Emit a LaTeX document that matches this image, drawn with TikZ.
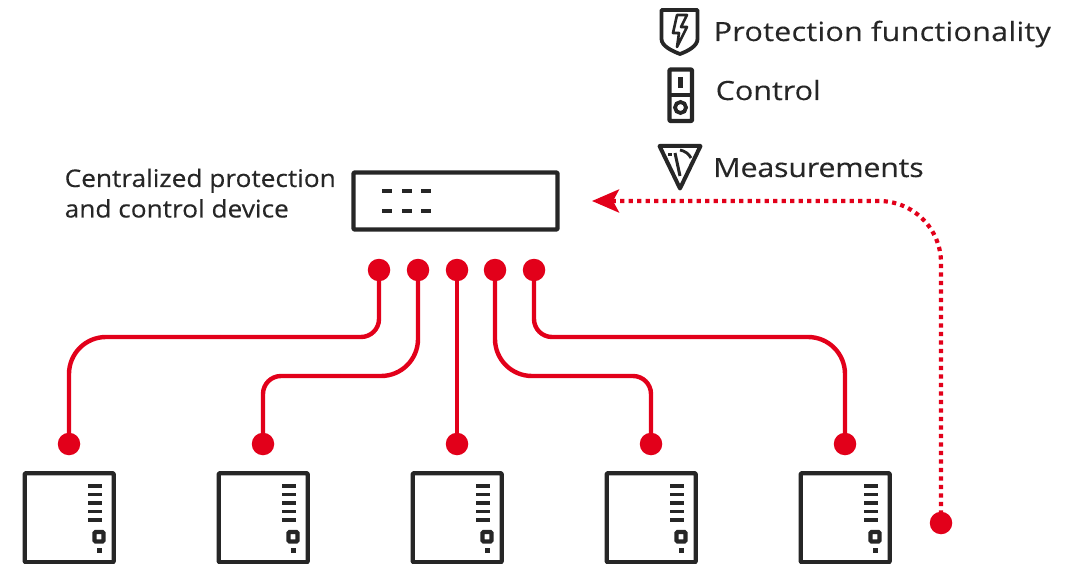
\documentclass[tikz,border=0pt]{standalone}
\usepackage{fontspec}
\setmainfont{Open Sans}
\newfontfamily\legendfont[FakeStretch=1.15,FakeBold=0.25]{Open Sans}
\newfontfamily\devfont[FakeStretch=1.08,FakeBold=0.25]{Open Sans}
\usetikzlibrary{arrows.meta}
\definecolor{abbred}{HTML}{E2001A}
\definecolor{abbink}{HTML}{262626}
\tikzset{
  ink/.style={draw=abbink,line width=4.4pt,line join=round,rounded corners=1pt},
  thinink/.style={draw=abbink,line width=3.8pt,line join=round},
  pin/.style={circle,fill=abbred,minimum size=22.5pt,inner sep=0pt},
  wire/.style={draw=abbred,line width=4.4pt},
  bigbend/.style={rounded corners=37pt},
  smallbend/.style={rounded corners=18pt},
  dotwire/.style={draw=abbred,line width=4.2pt,dash pattern=on 4.2pt off 4.3pt,rounded corners=62pt,
    -{Stealth[length=27pt,width=23pt,inset=6pt,color=abbred]}},
  lbl/.style={anchor=base west,inner sep=0pt,text=abbink,font=\legendfont\fontsize{26.5}{33}\selectfont},
  lblsmall/.style={anchor=base west,inner sep=0pt,text=abbink,font=\devfont\fontsize{24.3}{31}\selectfont},
}
\newcommand{\relaybox}[2]{%
  \node[ink,minimum width=89pt,minimum height=89pt,inner sep=0pt,anchor=north west] (#2) at (#1-46.5,471) {};
  \foreach \yy in {486,494.5,503,511.5,520}{\draw[draw=abbink,line width=3.8pt] (#1+19,\yy) -- (#1+33,\yy);}
  \draw[draw=abbink,line width=4.2pt,rounded corners=1pt] (#1+25.5,532) rectangle (#1+34.5,541.5);
  \fill[abbink] (#1+28,548) rectangle (#1+32.5,552.5);
}
\begin{document}
\begin{tikzpicture}[x=1pt,y=-1pt]
\useasboundingbox (0,0) rectangle (1081,564);

% legend icons
\draw[thinink] (661.5,10) -- (697.5,10) -- (697.5,39) .. controls (697.5,46) and (688,51) .. (680,54) .. controls (672,51) and (661.5,46) .. (661.5,39) -- cycle;
\draw[draw=abbink,line width=2.6pt,line join=round] (677,15) -- (687,15) -- (681,27) -- (687,27) -- (677,47) -- (679,33) -- (673,33) -- cycle;
\draw[ink] (669.5,69.5) rectangle (692,121);
\draw[draw=abbink,line width=3.6pt] (669.5,95) -- (692,95);
\draw[draw=abbink,line width=4.4pt] (680.5,77) -- (680.5,88);
\draw[draw=abbink,line width=3.8pt] (680.5,107.5) circle (5.5);
\draw[thinink,line width=4pt] (659.5,146) -- (700.5,146) -- (680,188.5) -- cycle;
\draw[draw=abbink,line width=3pt] (675,153) -- (680,176);
\draw[draw=abbink,line width=2.8pt] (680,150) .. controls (685,151) and (689,154) .. (691,158);
\fill[abbink] (668,153) rectangle (671.5,156.5);

\node[lbl] (t1) at (713.5,41) {\addfontfeature{LetterSpace=1.1}Protection functionality};
\node[lbl] (t2) at (715.5,100) {Control};
\node[lbl] (t3) at (713,177) {\addfontfeature{LetterSpace=-0.9}Measurements};

% central device
\node[lblsmall] (t4) at (64.5,187) {Centralized protection};
\node[lblsmall] (t5) at (64.5,217.5) {and control device};
\node[ink,minimum width=204pt,minimum height=57pt,inner sep=0pt] (dev) at (455.5,201) {};
\foreach \yy in {191,211}{
  \foreach \xx in {382,402,421}{
    \draw[draw=abbink,line width=4pt] (\xx,\yy) -- (\xx+10,\yy);
  }
}

% pins
\node[pin] (a1) at (379,270) {};
\node[pin] (a2) at (418,270) {};
\node[pin] (a3) at (457,270) {};
\node[pin] (a4) at (495,270) {};
\node[pin] (a5) at (534,270) {};
\node[pin] (b1) at (69,444) {};
\node[pin] (b2) at (263,444) {};
\node[pin] (b3) at (457,444) {};
\node[pin] (b4) at (651,444) {};
\node[pin] (b5) at (845,444) {};
\node[pin] (m) at (941,523) {};
\coordinate (tip) at (592,201);
\coordinate (j1) at (220,337);
\coordinate (j2) at (340,376);
\coordinate (j4) at (570,376);
\coordinate (j5) at (690,337);

% wires
\draw[wire,smallbend] (a1.center) |- (j1);
\draw[wire,bigbend] (j1) -| (b1.center);
\draw[wire,bigbend] (a2.center) |- (j2);
\draw[wire,smallbend] (j2) -| (b2.center);
\draw[wire] (a3.center) -- (b3.center);
\draw[wire,bigbend] (a4.center) |- (j4);
\draw[wire,smallbend] (j4) -| (b4.center);
\draw[wire,smallbend] (a5.center) |- (j5);
\draw[wire,bigbend] (j5) -| (b5.center);
\draw[dotwire] (m.center) |- (tip);

% relays
\relaybox{69}{r1}
\relaybox{263}{r2}
\relaybox{457}{r3}
\relaybox{651}{r4}
\relaybox{845}{r5}
\end{tikzpicture}
\end{document}
